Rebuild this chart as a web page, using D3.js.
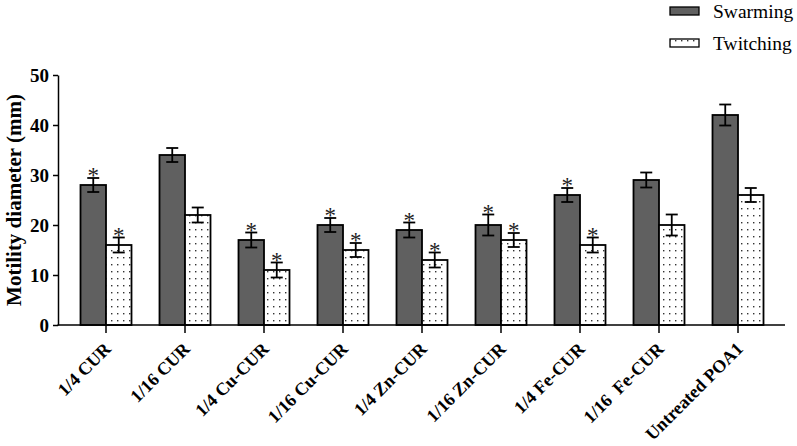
<!DOCTYPE html>
<html><head><meta charset="utf-8">
<script src="https://cdn.jsdelivr.net/npm/d3@7"></script>
<style>body{margin:0;background:#fff}svg{display:block}</style>
</head><body><svg id="c" width="797" height="446"></svg>
<script>
const categories = ["1/4 CUR","1/16 CUR","1/4 Cu-CUR","1/16 Cu-CUR","1/4 Zn-CUR","1/16 Zn-CUR","1/4 Fe-CUR","1/16  Fe-CUR","Untreated POA1"];
const swarming = [28,34,17,20,19,20,26,29,42];
const swarmingErr = [1.4,1.4,1.5,1.4,1.5,2.1,1.4,1.5,2.1];
const swarmingSig = [true,false,true,true,true,true,true,false,false];
const twitching = [16,22,11,15,13,17,16,20,26];
const twitchingErr = [1.5,1.5,1.5,1.4,1.5,1.4,1.5,2.1,1.4];
const twitchingSig = [true,false,true,true,true,true,true,false,false];
const yTicks = [0,10,20,30,40,50];
const seriesNames = ["Swarming","Twitching"];

const svg = d3.select("#c");
const font = "'Liberation Serif','Times New Roman',serif";
const defs = svg.append("defs");
const pat = defs.append("pattern").attr("id","dots").attr("patternUnits","userSpaceOnUse")
  .attr("width",6).attr("height",7).attr("x",1).attr("y",2);
pat.append("rect").attr("width",6).attr("height",7).attr("fill","#fff");
pat.append("rect").attr("x",2).attr("y",3).attr("width",1.4).attr("height",1.4).attr("fill","#333");

const y = d3.scaleLinear().domain([0,50]).range([325,75]);
const x = d3.scaleBand().domain(categories).range([66.5,777.5]).paddingInner(0).paddingOuter(0);
const barW = 25.5;

const series = [
  {name:"Swarming", vals:swarming, err:swarmingErr, sig:swarmingSig, fill:"#606060", off:-barW},
  {name:"Twitching", vals:twitching, err:twitchingErr, sig:twitchingSig, fill:"url(#dots)", off:0}
];
series.forEach(s=>{
  const g = svg.append("g");
  categories.forEach((c,i)=>{
    const cx = x(c)+x.bandwidth()/2 + s.off;
    g.append("rect").attr("x",cx).attr("y",y(s.vals[i])).attr("width",barW)
      .attr("height",y(0)-y(s.vals[i])).attr("fill",s.fill).attr("stroke","#000").attr("stroke-width",1.8);
    const mx = cx+barW/2;
    const hi = y(s.vals[i]+s.err[i]), lo = y(s.vals[i]-s.err[i]);
    g.append("line").attr("x1",mx).attr("x2",mx).attr("y1",hi).attr("y2",lo).attr("stroke","#000").attr("stroke-width",1.8);
    g.append("line").attr("x1",mx-6).attr("x2",mx+6).attr("y1",hi).attr("y2",hi).attr("stroke","#000").attr("stroke-width",1.8);
    g.append("line").attr("x1",mx-6).attr("x2",mx+6).attr("y1",lo).attr("y2",lo).attr("stroke","#000").attr("stroke-width",1.8);
    if(s.sig[i]){
      g.append("text").attr("x",mx).attr("y",hi+5).attr("text-anchor","middle")
        .attr("font-family",font).attr("font-size",23).attr("fill","#222").text("*");
    }
  });
});

// y axis
const yAxis = svg.append("g").attr("transform","translate(58,0)")
  .call(d3.axisLeft(y).tickValues(yTicks).tickSize(5).tickSizeOuter(0).tickPadding(4));
yAxis.select(".domain").attr("stroke","#000").attr("stroke-width",1.5);
yAxis.selectAll(".tick line").attr("stroke","#000").attr("stroke-width",1.5);
yAxis.selectAll("text").attr("font-family",font).attr("font-size",19).attr("font-weight","bold").attr("fill","#000");

// x axis
svg.append("line").attr("x1",57.5).attr("x2",785).attr("y1",325).attr("y2",325).attr("stroke","#000").attr("stroke-width",1.5);
const xAxis = svg.append("g").attr("transform","translate(0,325)")
  .call(d3.axisBottom(x).tickSize(8).tickSizeOuter(0));
xAxis.select(".domain").remove();
xAxis.selectAll(".tick line").attr("stroke","#000").attr("stroke-width",1.5);
xAxis.selectAll("text").attr("font-family",font).attr("font-size",18).attr("font-weight","bold").attr("fill","#000")
  .attr("text-anchor","end").attr("dy",0).attr("y",0).style("white-space","pre")
  .attr("transform","translate(6,25) rotate(-45)");

// y title
svg.append("text").attr("transform","translate(21,200) rotate(-90)").attr("text-anchor","middle")
  .attr("font-family",font).attr("font-size",21).attr("font-weight","bold").text("Motility diameter (mm)");

// legend
const leg = svg.append("g");
seriesNames.forEach((n,i)=>{
  const s = series[i];
  const ly = 7 + i*32;
  leg.append("rect").attr("x",670).attr("y",ly).attr("width",29).attr("height",8)
    .attr("fill", s.fill).attr("stroke","#000").attr("stroke-width",1.3);
  leg.append("text").attr("x",713).attr("y",ly+11).attr("font-family",font).attr("font-size",19.5).text(n);
});
</script></body></html>
